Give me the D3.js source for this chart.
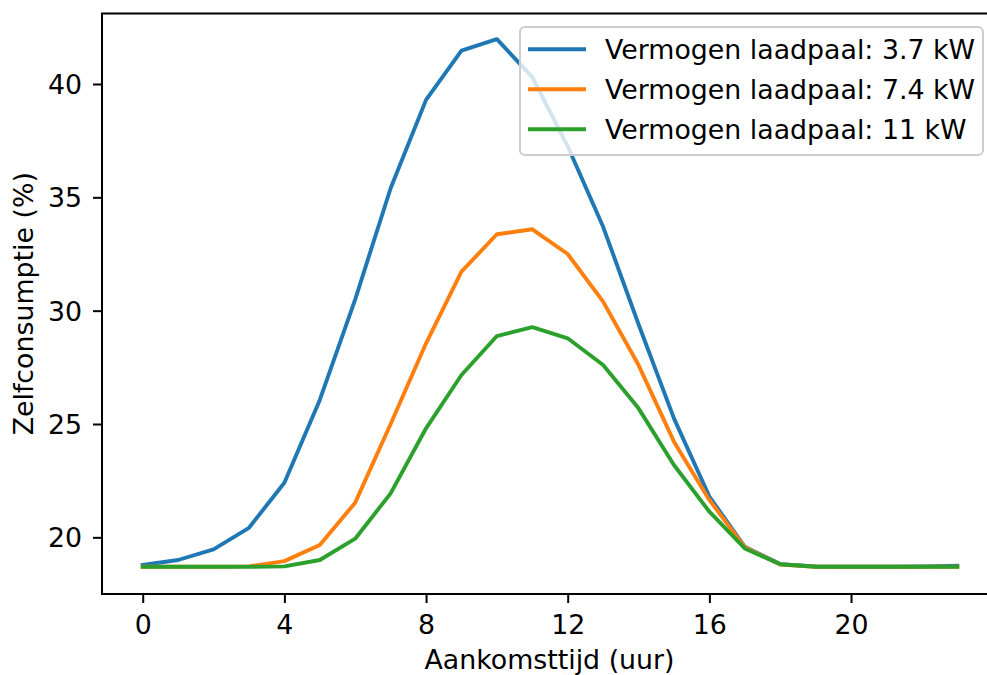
<!DOCTYPE html>
<html>
<head>
<meta charset="utf-8">
<script src="https://cdn.jsdelivr.net/npm/d3@7"></script>
<style>
  html, body { margin: 0; padding: 0; background: #fff; }
  svg { display: block; }
  text { font-family: "DejaVu Sans", sans-serif; fill: #000; }
</style>
</head>
<body>
<svg id="chart" width="987" height="675"></svg>
<script>
// Arrival hour of the car
const hours = [0, 1, 2, 3, 4, 5, 6, 7, 8, 9, 10, 11, 12, 13, 14, 15, 16, 17, 18, 19, 20, 21, 22, 23];

// Self-consumption (%) per charger power
const selfUse37 = [18.78, 19.0, 19.47, 20.42, 22.41, 26.06, 30.5, 35.4, 39.3, 41.47, 41.98, 40.3,
                   37.25, 33.7, 29.4, 25.25, 21.8, 19.58, 18.82, 18.72, 18.7, 18.7, 18.72, 18.75];
const selfUse74 = [18.7, 18.7, 18.7, 18.72, 18.95, 19.66, 21.53, 25.0, 28.56, 31.72, 33.37, 33.59,
                   32.5, 30.4, 27.6, 24.22, 21.65, 19.56, 18.8, 18.7, 18.7, 18.7, 18.7, 18.7];
const selfUse11 = [18.7, 18.7, 18.7, 18.7, 18.72, 19.0, 19.94, 21.94, 24.81, 27.16, 28.88, 29.27,
                   28.78, 27.6, 25.69, 23.19, 21.13, 19.51, 18.81, 18.7, 18.7, 18.7, 18.7, 18.7];

const seriesLabels = ["Vermogen laadpaal: 3.7 kW", "Vermogen laadpaal: 7.4 kW", "Vermogen laadpaal: 11 kW"];
const seriesColors = ["#1f77b4", "#ff7f0e", "#2ca02c"];
const xTicks = [0, 4, 8, 12, 16, 20];
const yTicks = [20, 25, 30, 35, 40];

const series = [selfUse37, selfUse74, selfUse11].map((vals, i) => ({
  label: seriesLabels[i],
  color: seriesColors[i],
  points: hours.map((h, j) => [h, vals[j]])
}));

const svg = d3.select("#chart");
const plotLeft = 102, plotRight = 998, plotTop = 13.5, plotBottom = 594;

const x = d3.scaleLinear().domain([-1.15, 24.15]).range([plotLeft, plotRight]);
const y = d3.scaleLinear().domain([17.5, 43.11]).range([plotBottom, plotTop]);

const fontSize = 26.8;

// X axis
const xAxis = svg.append("g")
  .attr("transform", `translate(0,${plotBottom})`)
  .call(d3.axisBottom(x).tickValues(xTicks).tickSize(9).tickPadding(11.5).tickFormat(d3.format("d")));
xAxis.select(".domain").remove();
xAxis.selectAll("line").attr("stroke", "#000").attr("stroke-width", 2);
xAxis.selectAll("text").attr("font-size", fontSize).attr("font-family", "DejaVu Sans")
  .attr("fill", "#000").attr("dy", "0.71em");

// Y axis
const yAxis = svg.append("g")
  .attr("transform", `translate(${plotLeft},0)`)
  .call(d3.axisLeft(y).tickValues(yTicks).tickSize(9).tickPadding(11).tickFormat(d3.format("d")));
yAxis.select(".domain").remove();
yAxis.selectAll("line").attr("stroke", "#000").attr("stroke-width", 2);
yAxis.selectAll("text").attr("font-size", fontSize).attr("font-family", "DejaVu Sans")
  .attr("fill", "#000").attr("dy", "0.36em");

// Lines
const line = d3.line().x(d => x(d[0])).y(d => y(d[1]));
const plot = svg.append("g");
series.forEach(s => {
  plot.append("path")
    .datum(s.points)
    .attr("d", line)
    .attr("fill", "none")
    .attr("stroke", s.color)
    .attr("stroke-width", 3.9)
    .attr("stroke-linejoin", "round")
    .attr("stroke-linecap", "square");
});

// Frame
svg.append("rect")
  .attr("x", plotLeft).attr("y", plotTop)
  .attr("width", plotRight - plotLeft).attr("height", plotBottom - plotTop)
  .attr("fill", "none").attr("stroke", "#000").attr("stroke-width", 2);

// Axis titles
svg.append("text")
  .attr("x", 549.5).attr("y", 669)
  .attr("text-anchor", "middle")
  .attr("font-size", fontSize)
  .text("Aankomsttijd (uur)");

svg.append("text")
  .attr("transform", `translate(33,${(plotTop + plotBottom) / 2}) rotate(-90)`)
  .attr("text-anchor", "middle")
  .attr("font-size", fontSize)
  .text("Zelfconsumptie (%)");

// Legend
const legend = svg.append("g");
legend.append("rect")
  .attr("x", 520).attr("y", 27)
  .attr("width", 463).attr("height", 128)
  .attr("rx", 5).attr("ry", 5)
  .attr("fill", "rgba(255,255,255,0.8)")
  .attr("stroke", "#cccccc").attr("stroke-width", 2);

series.forEach((s, i) => {
  const cy = 49.3 + i * 40;
  legend.append("line")
    .attr("x1", 528).attr("x2", 586)
    .attr("y1", cy).attr("y2", cy)
    .attr("stroke", s.color).attr("stroke-width", 3.9)
    .attr("stroke-linecap", "butt");
  legend.append("text")
    .attr("x", 605).attr("y", cy)
    .attr("dy", "0.36em")
    .attr("font-size", fontSize)
    .text(s.label);
});
</script>
</body>
</html>
